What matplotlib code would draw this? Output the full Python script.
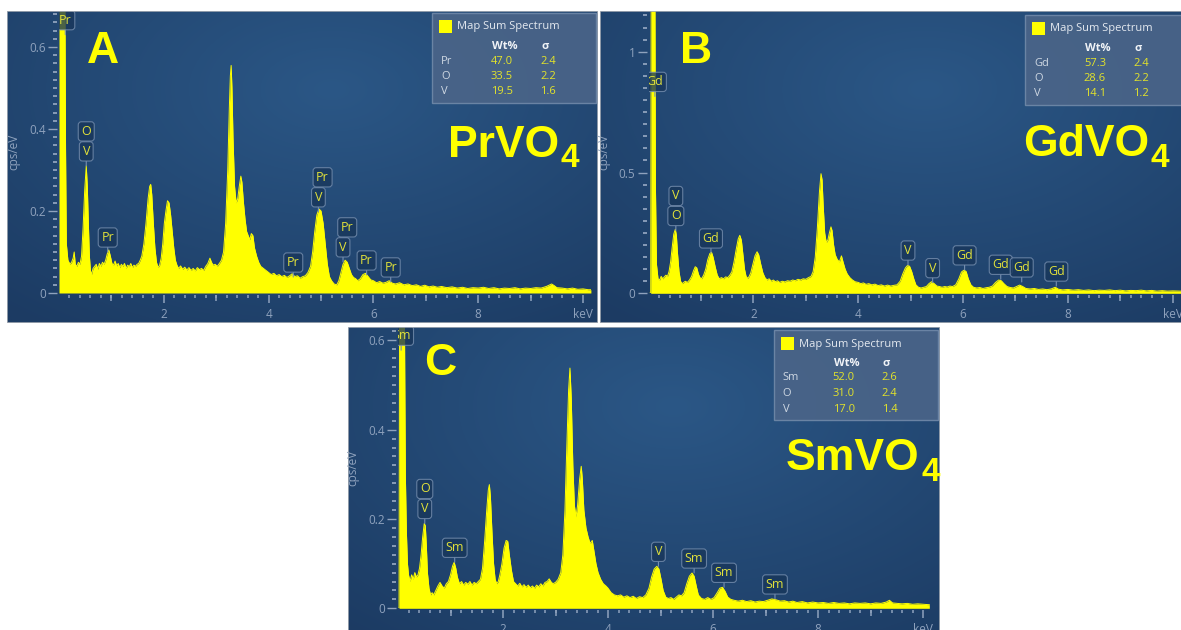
import numpy as np
import matplotlib
matplotlib.use("Agg")
import matplotlib.pyplot as plt
from matplotlib.patches import Rectangle

# ---------------- data ----------------
energy_A = [0.00, 0.11, 0.125, 0.14, 0.17, 0.21, 0.24, 0.27, 0.29, 0.31, 0.34, 0.37, 0.40, 0.43, 0.46, 0.49,
            0.52, 0.54, 0.56, 0.58, 0.60, 0.62, 0.65, 0.68, 0.71, 0.74, 0.77, 0.80, 0.83, 0.86, 0.89, 0.92,
            0.95, 0.98, 1.01, 1.04, 1.07, 1.10, 1.13, 1.16, 1.19, 1.22, 1.25, 1.28, 1.31, 1.34, 1.37, 1.40,
            1.43, 1.46, 1.49, 1.52, 1.55, 1.58, 1.62, 1.66, 1.70, 1.73, 1.75, 1.77, 1.80, 1.83, 1.86, 1.89,
            1.92, 1.95, 1.98, 2.01, 2.04, 2.07, 2.10, 2.13, 2.16, 2.19, 2.22, 2.25, 2.28, 2.32, 2.36, 2.40,
            2.44, 2.48, 2.52, 2.56, 2.60, 2.64, 2.68, 2.72, 2.76, 2.80, 2.84, 2.88, 2.91, 2.94, 2.98, 3.02,
            3.06, 3.10, 3.14, 3.18, 3.22, 3.25, 3.27, 3.285, 3.30, 3.32, 3.35, 3.38, 3.41, 3.44, 3.47, 3.49,
            3.52, 3.55, 3.58, 3.61, 3.64, 3.67, 3.70, 3.73, 3.77, 3.81, 3.85, 3.90, 3.95, 4.00, 4.05, 4.10,
            4.15, 4.20, 4.25, 4.30, 4.35, 4.40, 4.45, 4.50, 4.55, 4.60, 4.65, 4.70, 4.75, 4.80, 4.84, 4.88,
            4.92, 4.96, 5.00, 5.04, 5.08, 5.12, 5.16, 5.20, 5.25, 5.30, 5.34, 5.38, 5.42, 5.46, 5.50, 5.54,
            5.58, 5.62, 5.66, 5.70, 5.75, 5.80, 5.85, 5.90, 5.95, 6.00, 6.06, 6.12, 6.18, 6.24, 6.30, 6.36,
            6.42, 6.50, 6.58, 6.66, 6.74, 6.82, 6.90, 6.98, 7.06, 7.14, 7.22, 7.30, 7.40, 7.50, 7.60, 7.70,
            7.80, 7.90, 8.00, 8.10, 8.20, 8.30, 8.40, 8.50, 8.60, 8.70, 8.80, 8.90, 9.00, 9.10, 9.20, 9.30,
            9.40, 9.45, 9.50, 9.60, 9.70, 9.80, 9.90, 10.00, 10.10, 10.15]
counts_A = [0.80, 0.80, 0.35, 0.12, 0.08, 0.07, 0.075, 0.085, 0.10, 0.07, 0.065, 0.075, 0.07, 0.09, 0.16, 0.25,
            0.31, 0.26, 0.17, 0.09, 0.055, 0.045, 0.06, 0.065, 0.07, 0.058, 0.072, 0.065, 0.075, 0.07, 0.08, 0.095,
            0.105, 0.09, 0.072, 0.068, 0.078, 0.066, 0.072, 0.062, 0.07, 0.065, 0.072, 0.06, 0.068, 0.064, 0.072, 0.062,
            0.068, 0.065, 0.07, 0.072, 0.08, 0.09, 0.12, 0.17, 0.23, 0.26, 0.265, 0.24, 0.17, 0.11, 0.075, 0.062,
            0.068, 0.085, 0.12, 0.17, 0.20, 0.225, 0.22, 0.19, 0.15, 0.11, 0.08, 0.068, 0.06, 0.066, 0.058, 0.063,
            0.056, 0.062, 0.055, 0.06, 0.054, 0.062, 0.057, 0.06, 0.055, 0.065, 0.072, 0.085, 0.075, 0.068, 0.07, 0.065,
            0.072, 0.08, 0.10, 0.17, 0.30, 0.45, 0.53, 0.555, 0.50, 0.38, 0.26, 0.22, 0.23, 0.26, 0.285, 0.27,
            0.22, 0.18, 0.15, 0.14, 0.13, 0.145, 0.14, 0.11, 0.09, 0.075, 0.065, 0.06, 0.055, 0.05, 0.045, 0.048,
            0.042, 0.045, 0.04, 0.043, 0.038, 0.042, 0.047, 0.04, 0.042, 0.036, 0.04, 0.042, 0.05, 0.065, 0.10, 0.15,
            0.19, 0.205, 0.20, 0.17, 0.12, 0.07, 0.04, 0.03, 0.022, 0.02, 0.03, 0.05, 0.07, 0.08, 0.075, 0.06,
            0.045, 0.038, 0.035, 0.03, 0.035, 0.045, 0.048, 0.04, 0.032, 0.03, 0.025, 0.028, 0.024, 0.026, 0.03, 0.024,
            0.022, 0.025, 0.02, 0.022, 0.018, 0.02, 0.016, 0.019, 0.015, 0.017, 0.014, 0.016, 0.013, 0.015, 0.012, 0.014,
            0.011, 0.013, 0.012, 0.014, 0.011, 0.013, 0.010, 0.012, 0.011, 0.013, 0.010, 0.012, 0.011, 0.013, 0.012, 0.016,
            0.022, 0.018, 0.013, 0.012, 0.010, 0.012, 0.009, 0.010, 0.008, 0.008]

energy_B = [0.00, 0.04, 0.05, 0.12, 0.13, 0.15, 0.18, 0.21, 0.24, 0.27, 0.30, 0.33, 0.36, 0.39, 0.42, 0.45,
            0.48, 0.51, 0.53, 0.55, 0.58, 0.61, 0.64, 0.67, 0.70, 0.74, 0.78, 0.82, 0.86, 0.89, 0.92, 0.95,
            0.98, 1.01, 1.05, 1.09, 1.13, 1.17, 1.20, 1.23, 1.27, 1.31, 1.35, 1.39, 1.43, 1.47, 1.51, 1.55,
            1.59, 1.63, 1.67, 1.71, 1.74, 1.77, 1.80, 1.83, 1.86, 1.89, 1.92, 1.95, 1.99, 2.03, 2.07, 2.10,
            2.14, 2.18, 2.22, 2.26, 2.30, 2.34, 2.38, 2.42, 2.46, 2.50, 2.55, 2.60, 2.65, 2.70, 2.75, 2.80,
            2.85, 2.90, 2.95, 3.00, 3.05, 3.10, 3.14, 3.18, 3.22, 3.26, 3.29, 3.31, 3.33, 3.36, 3.39, 3.42,
            3.45, 3.48, 3.50, 3.53, 3.56, 3.60, 3.64, 3.68, 3.71, 3.75, 3.79, 3.84, 3.89, 3.94, 4.00, 4.05,
            4.10, 4.15, 4.20, 4.26, 4.32, 4.38, 4.44, 4.50, 4.56, 4.62, 4.68, 4.74, 4.80, 4.85, 4.90, 4.94,
            4.98, 5.02, 5.06, 5.10, 5.15, 5.20, 5.25, 5.30, 5.35, 5.40, 5.45, 5.50, 5.55, 5.60, 5.65, 5.70,
            5.75, 5.80, 5.86, 5.92, 5.97, 6.02, 6.06, 6.10, 6.15, 6.20, 6.26, 6.32, 6.38, 6.44, 6.50, 6.56,
            6.62, 6.68, 6.73, 6.78, 6.84, 6.90, 6.96, 7.02, 7.08, 7.14, 7.20, 7.28, 7.36, 7.44, 7.52, 7.60,
            7.68, 7.76, 7.82, 7.90, 8.00, 8.10, 8.20, 8.30, 8.40, 8.50, 8.60, 8.70, 8.80, 8.90, 9.00, 9.10,
            9.20, 9.30, 9.40, 9.50, 9.60, 9.70, 9.80, 9.90, 10.00, 10.15]
counts_B = [0.0, 0.0, 1.30, 1.30, 0.45, 0.12, 0.06, 0.055, 0.07, 0.06, 0.068, 0.075, 0.07, 0.09, 0.13, 0.19,
            0.245, 0.265, 0.24, 0.17, 0.09, 0.05, 0.04, 0.045, 0.05, 0.045, 0.055, 0.07, 0.095, 0.11, 0.105, 0.08,
            0.065, 0.06, 0.075, 0.10, 0.14, 0.165, 0.17, 0.15, 0.11, 0.075, 0.06, 0.065, 0.06, 0.068, 0.065, 0.075,
            0.09, 0.13, 0.18, 0.225, 0.24, 0.22, 0.16, 0.10, 0.07, 0.062, 0.07, 0.085, 0.12, 0.155, 0.172, 0.16,
            0.12, 0.085, 0.065, 0.055, 0.06, 0.05, 0.055, 0.048, 0.052, 0.045, 0.05, 0.047, 0.052, 0.05, 0.055, 0.052,
            0.058, 0.055, 0.06, 0.058, 0.065, 0.07, 0.09, 0.15, 0.27, 0.42, 0.495, 0.47, 0.37, 0.25, 0.21, 0.22,
            0.25, 0.275, 0.26, 0.20, 0.16, 0.14, 0.13, 0.155, 0.13, 0.10, 0.08, 0.065, 0.055, 0.048, 0.045, 0.04,
            0.043, 0.037, 0.04, 0.035, 0.038, 0.032, 0.035, 0.03, 0.034, 0.03, 0.033, 0.035, 0.05, 0.08, 0.105, 0.115,
            0.112, 0.09, 0.06, 0.035, 0.025, 0.022, 0.025, 0.028, 0.04, 0.048, 0.04, 0.03, 0.028, 0.025, 0.028, 0.026,
            0.03, 0.028, 0.035, 0.06, 0.088, 0.096, 0.09, 0.06, 0.035, 0.025, 0.022, 0.024, 0.02, 0.023, 0.025, 0.03,
            0.045, 0.055, 0.052, 0.04, 0.028, 0.024, 0.022, 0.028, 0.034, 0.028, 0.02, 0.018, 0.02, 0.016, 0.018, 0.015,
            0.018, 0.025, 0.017, 0.014, 0.016, 0.013, 0.015, 0.012, 0.014, 0.011, 0.013, 0.012, 0.014, 0.011, 0.013, 0.010,
            0.012, 0.011, 0.013, 0.010, 0.012, 0.009, 0.011, 0.009, 0.010, 0.009]

energy_C = [0.00, 0.02, 0.03, 0.12, 0.14, 0.16, 0.18, 0.20, 0.23, 0.26, 0.29, 0.32, 0.35, 0.38, 0.41, 0.44,
            0.47, 0.50, 0.52, 0.54, 0.56, 0.59, 0.62, 0.65, 0.68, 0.72, 0.76, 0.80, 0.84, 0.88, 0.92, 0.96,
            1.00, 1.04, 1.07, 1.10, 1.13, 1.17, 1.21, 1.25, 1.29, 1.33, 1.37, 1.41, 1.45, 1.49, 1.53, 1.57,
            1.61, 1.65, 1.69, 1.72, 1.74, 1.76, 1.79, 1.82, 1.85, 1.88, 1.91, 1.94, 1.98, 2.02, 2.06, 2.09,
            2.12, 2.16, 2.20, 2.24, 2.28, 2.32, 2.36, 2.40, 2.44, 2.48, 2.52, 2.56, 2.60, 2.64, 2.68, 2.72,
            2.76, 2.80, 2.84, 2.88, 2.91, 2.95, 3.00, 3.05, 3.10, 3.14, 3.18, 3.22, 3.25, 3.275, 3.30, 3.33,
            3.36, 3.39, 3.42, 3.46, 3.49, 3.51, 3.54, 3.58, 3.62, 3.66, 3.70, 3.73, 3.77, 3.81, 3.86, 3.91,
            3.96, 4.00, 4.06, 4.12, 4.18, 4.24, 4.30, 4.36, 4.42, 4.48, 4.54, 4.60, 4.66, 4.72, 4.78, 4.83,
            4.88, 4.93, 4.97, 5.01, 5.05, 5.10, 5.15, 5.20, 5.25, 5.30, 5.35, 5.40, 5.45, 5.50, 5.55, 5.60,
            5.64, 5.68, 5.72, 5.78, 5.84, 5.90, 5.96, 6.02, 6.08, 6.13, 6.18, 6.23, 6.28, 6.34, 6.40, 6.48,
            6.56, 6.64, 6.72, 6.80, 6.88, 6.96, 7.04, 7.12, 7.20, 7.28, 7.36, 7.44, 7.52, 7.60, 7.70, 7.80,
            7.90, 8.00, 8.10, 8.20, 8.30, 8.40, 8.50, 8.60, 8.70, 8.80, 8.90, 9.00, 9.10, 9.20, 9.30, 9.36,
            9.42, 9.50, 9.60, 9.70, 9.80, 9.90, 10.00, 10.12]
counts_C = [0.0, 0.0, 0.70, 0.70, 0.30, 0.17, 0.10, 0.075, 0.06, 0.075, 0.065, 0.08, 0.07, 0.075, 0.09, 0.12,
            0.16, 0.19, 0.185, 0.14, 0.08, 0.045, 0.03, 0.035, 0.03, 0.04, 0.05, 0.058, 0.05, 0.045, 0.055, 0.06,
            0.075, 0.095, 0.103, 0.09, 0.07, 0.055, 0.06, 0.052, 0.058, 0.054, 0.06, 0.052, 0.058, 0.055, 0.06, 0.065,
            0.09, 0.15, 0.22, 0.265, 0.277, 0.25, 0.17, 0.10, 0.065, 0.055, 0.06, 0.075, 0.10, 0.135, 0.152, 0.15,
            0.12, 0.085, 0.06, 0.055, 0.05, 0.056, 0.048, 0.053, 0.047, 0.052, 0.046, 0.05, 0.045, 0.052, 0.048, 0.055,
            0.05, 0.058, 0.06, 0.066, 0.06, 0.055, 0.058, 0.065, 0.08, 0.12, 0.22, 0.38, 0.49, 0.538, 0.47, 0.32,
            0.23, 0.205, 0.23, 0.29, 0.318, 0.29, 0.22, 0.18, 0.16, 0.145, 0.152, 0.13, 0.10, 0.08, 0.065, 0.055,
            0.05, 0.045, 0.035, 0.03, 0.028, 0.03, 0.025, 0.028, 0.024, 0.027, 0.022, 0.026, 0.024, 0.03, 0.045, 0.07,
            0.088, 0.094, 0.088, 0.065, 0.04, 0.025, 0.022, 0.024, 0.02, 0.025, 0.03, 0.028, 0.035, 0.055, 0.072, 0.079,
            0.072, 0.05, 0.03, 0.022, 0.02, 0.024, 0.02, 0.024, 0.035, 0.045, 0.047, 0.038, 0.025, 0.02, 0.018, 0.016,
            0.018, 0.015, 0.017, 0.014, 0.016, 0.015, 0.018, 0.021, 0.019, 0.016, 0.017, 0.014, 0.016, 0.013, 0.015, 0.012,
            0.014, 0.012, 0.013, 0.011, 0.013, 0.011, 0.012, 0.010, 0.012, 0.011, 0.012, 0.010, 0.012, 0.011, 0.014, 0.018,
            0.012, 0.011, 0.010, 0.011, 0.009, 0.010, 0.009, 0.008]

# peak labels: (text, energy keV, height cps/eV, stack level)
peaks_A = [("Pr", 0.12, 0.63, 0), ("V", 0.52, 0.31, 0), ("O", 0.52, 0.31, 1), ("Pr", 0.93, 0.10, 0),
           ("Pr", 4.47, 0.039, 0), ("V", 4.95, 0.198, 0), ("Pr", 5.03, 0.198, 1),
           ("V", 5.42, 0.076, 0), ("Pr", 5.50, 0.076, 1), ("Pr", 5.87, 0.044, 0), ("Pr", 6.33, 0.027, 0)]
peaks_B = [("Gd", 0.12, 0.815, 0), ("O", 0.52, 0.26, 0), ("V", 0.52, 0.26, 1), ("Gd", 1.19, 0.167, 0),
           ("V", 4.95, 0.117, 0), ("V", 5.42, 0.044, 0), ("Gd", 6.03, 0.097, 0),
           ("Gd", 6.72, 0.058, 0), ("Gd", 7.12, 0.047, 0), ("Gd", 7.78, 0.030, 0)]
peaks_C = [("Sm", 0.06, 0.578, 0), ("V", 0.51, 0.19, 0), ("O", 0.51, 0.19, 1), ("Sm", 1.08, 0.103, 0),
           ("V", 4.96, 0.094, 0), ("Sm", 5.64, 0.079, 0), ("Sm", 6.21, 0.047, 0), ("Sm", 7.18, 0.021, 0)]

elements_A, wt_A, sigma_A = ["Pr", "O", "V"], ["47.0", "33.5", "19.5"], ["2.4", "2.2", "1.6"]
elements_B, wt_B, sigma_B = ["Gd", "O", "V"], ["57.3", "28.6", "14.1"], ["2.4", "2.2", "1.2"]
elements_C, wt_C, sigma_C = ["Sm", "O", "V"], ["52.0", "31.0", "17.0"], ["2.6", "2.4", "1.4"]

yticks_A, ylabels_A = [0, 0.2, 0.4, 0.6], ["0", "0.2", "0.4", "0.6"]
yticks_B, ylabels_B = [0, 0.5, 1.0], ["0", "0.5", "1"]
yticks_C, ylabels_C = [0, 0.2, 0.4, 0.6], ["0", "0.2", "0.4", "0.6"]
xticks = [2, 4, 6, 8, 10]
xticklabels = ["2", "4", "6", "8", "keV"]

# ---------------- style ----------------
W, H = 1181, 630
TICKC = "#8fa2bd"
YEL = "#ffff00"
VALC = "#e4e42a"
FONT = ["Open Sans", "DejaVu Sans"]
BIG = ["Liberation Sans", "DejaVu Sans"]

fig = plt.figure(figsize=(W / 100, H / 100), dpi=100)
fig.patch.set_facecolor("white")
renderer = fig.canvas.get_renderer()


def rect(x0, y0, x1, y1):
    return [x0 / W, 1 - y1 / H, (x1 - x0) / W, (y1 - y0) / H]


def gradient():
    ny, nx = 120, 200
    yy, xx = np.mgrid[0:1:ny * 1j, 0:1:nx * 1j]
    d = np.sqrt(((xx - 0.55) / 0.85) ** 2 + ((yy - 0.25) / 0.95) ** 2)
    t = np.clip(d, 0, 1)[..., None]
    c0 = np.array([0x2b, 0x57, 0x86]) / 255
    c1 = np.array([0x1c, 0x3b, 0x63]) / 255
    return c0 * (1 - t) + c1 * t


def panel(frame, axl, axr, axb, axt, ymax, E, C, peaks, yt, ytl, ymin_step,
          letter, letter_xy, formula, f_xy, sub_dy, legend_xy, elems, wts, sigs):
    fx0, fy0, fx1, fy1 = frame
    # background
    bg = fig.add_axes(rect(*frame), zorder=0)
    bg.imshow(gradient(), extent=(0, 1, 0, 1), aspect="auto", interpolation="bilinear")
    bg.set_axis_off()

    ax = fig.add_axes(rect(axl, axt, axr, axb), zorder=1)
    ax.set_facecolor("none")
    ax.fill_between(E, 0, C, color=YEL, lw=0, zorder=1)
    ax.plot(E, C, color=YEL, lw=0.7, zorder=1)
    ax.set_xlim(0, 10.15)
    ax.set_ylim(0, ymax)
    for s in ax.spines.values():
        s.set_visible(False)
    ax.spines["bottom"].set_position(("outward", 1.5))
    ax.spines["left"].set_position(("outward", 1.5))
    ax.set_xticks(xticks)
    ax.set_xticklabels(xticklabels)
    ax.set_xticks(np.arange(0.2, 10.1, 0.2), minor=True)
    ax.set_yticks(yt)
    ax.set_yticklabels(ytl)
    ax.set_yticks(np.arange(0, ymax, ymin_step), minor=True)
    ax.tick_params(axis="x", which="major", length=6, width=1.1, color=TICKC, labelcolor=TICKC,
                   labelsize=8.5, pad=3)
    ax.tick_params(axis="x", which="minor", length=2.5, width=1.1, color=TICKC)
    ax.tick_params(axis="y", which="major", length=6.5, width=1.0, color=TICKC, labelcolor=TICKC,
                   labelsize=8.5, pad=1.5)
    ax.tick_params(axis="y", which="minor", length=3, width=1.3, color=TICKC)
    for lab in ax.get_xticklabels() + ax.get_yticklabels():
        lab.set_family(FONT)
    ax.set_ylabel("cps/eV", color=TICKC, fontsize=8.5, family=FONT, labelpad=6)

    tw = ax.twiny()
    tw.set_zorder(1)
    tw.set_xlim(0, 10.15)
    tw.xaxis.set_ticks_position("bottom")
    for s in tw.spines.values():
        s.set_visible(False)
    tw.spines["bottom"].set_position(("outward", 1.5))
    tw.set_xticks([1, 3, 5, 7, 9])
    tw.set_xticklabels([])
    tw.tick_params(axis="x", which="major", length=4.3, width=1.1, color=TICKC)

    # peak labels
    for txt, e, c, lvl in peaks:
        off = (5 + 3 + lvl * 20) * 0.72
        ann = ax.annotate(txt, xy=(e, c), xytext=(0, off), textcoords="offset points",
                          ha="center", va="bottom", fontsize=9, family=FONT, color="#e2e23a",
                          bbox=dict(boxstyle="round,pad=0.25,rounding_size=0.25", fc="#18365a",
                                    ec="#7890b0", lw=0.8, alpha=0.78),
                          arrowprops=(dict(arrowstyle="-", color="#7890b0", lw=0.8, shrinkA=0, shrinkB=0)
                                      if lvl == 0 else None),
                          annotation_clip=False, zorder=4)
        ann.set_clip_box(ax.bbox)
        if ann.arrow_patch is not None:
            ann.arrow_patch.set_clip_box(ax.bbox)

    # overlay in image-pixel coordinates
    ov = fig.add_axes(rect(*frame), zorder=2)
    ov.set_xlim(fx0, fx1)
    ov.set_ylim(fy1, fy0)
    ov.set_axis_off()
    ov.add_patch(Rectangle((fx0, fy0), fx1 - fx0, fy1 - fy0, fill=False, ec="#a4abb4", lw=1.2))
    ov.text(letter_xy[0], letter_xy[1], letter, ha="center", va="baseline", fontsize=32,
            fontweight="bold", family=BIG, color=YEL)
    main = ov.text(f_xy[0], f_xy[1], formula[0], ha="left", va="baseline", fontsize=32,
                   fontweight="bold", family=BIG, color=YEL)
    ext = main.get_window_extent(renderer)
    xend = ov.transData.inverted().transform((ext.x1, ext.y0))[0]
    sub = ov.text(xend + 1.5, f_xy[1] + sub_dy, formula[1], ha="left", va="baseline", fontsize=24,
                  fontweight="bold", family=BIG, color=YEL)
    sub.set_clip_box(ov.bbox)
    bx, by = legend_xy
    ov.add_patch(Rectangle((bx, by), 164, 90, fc="#4a6488", ec="#6f88a8", lw=1.0, alpha=0.92))
    ov.add_patch(Rectangle((bx + 7, by + 7), 13, 13, fc=YEL, ec="none"))
    ov.text(bx + 25, by + 14, "Map Sum Spectrum", ha="left", va="center", fontsize=8,
            family=FONT, color="#e4e9f0")
    ov.text(bx + 73, by + 33.5, "Wt%", ha="center", va="center", fontsize=8,
            family=FONT, fontweight="bold", color="#f0f3f7")
    ov.text(bx + 113, by + 33.5, "σ", ha="center", va="center", fontsize=8,
            family=FONT, fontweight="bold", color="#f0f3f7")
    for i, (el, w, s) in enumerate(zip(elems, wts, sigs)):
        yrow = by + 48 + i * 15.5
        ov.text(bx + 9, yrow, el, ha="left", va="center", fontsize=8, family=FONT, color="#cfd8e3")
        ov.text(bx + 70, yrow, w, ha="center", va="center", fontsize=8, family=FONT, color=VALC)
        ov.text(bx + 116, yrow, s, ha="center", va="center", fontsize=8, family=FONT, color=VALC)


panel((7, 11, 598, 323), 59, 590.9, 293, 11, (293 - 11) / 410, energy_A, counts_A, peaks_A,
      yticks_A, ylabels_A, 0.02, "A", (103, 63), ("PrVO", "4"), (448, 157), 10,
      (432, 13), elements_A, wt_A, sigma_A)
panel((600, 11, 1192, 323), 648.6, 1180.5, 293.3, 11, (293.3 - 11) / 241.6, energy_B, counts_B, peaks_B,
      yticks_B, ylabels_B, 0.05, "B", (696.5, 63), ("GdVO", "4"), (1023, 156), 11,
      (1025, 15), elements_B, wt_B, sigma_B)
panel((348, 327, 940, 642), 398, 930.9, 608.3, 327, (608.3 - 327) / 446.5, energy_C, counts_C, peaks_C,
      yticks_C, ylabels_C, 0.02, "C", (440.5, 375), ("SmVO", "4"), (786, 470), 11,
      (773.6, 330), elements_C, wt_C, sigma_C)

fig.savefig("out.png", dpi=100, facecolor="white")
